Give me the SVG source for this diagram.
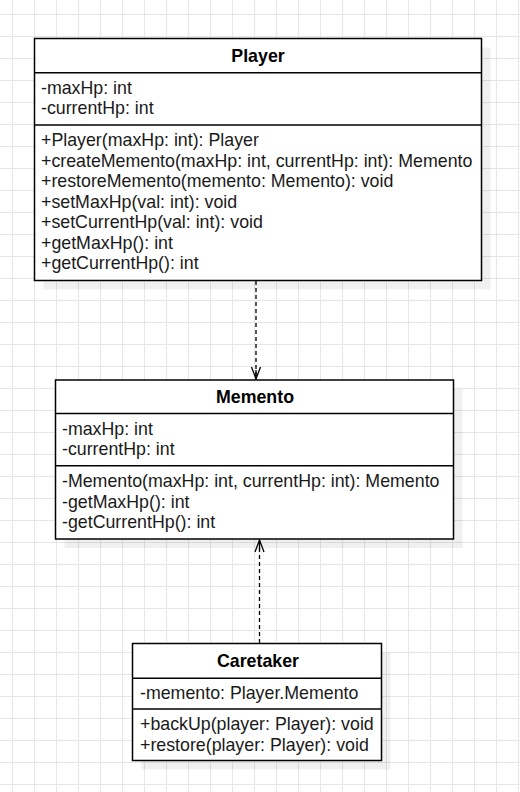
<svg xmlns="http://www.w3.org/2000/svg" width="520" height="792" viewBox="0 0 520 792">
<defs>
<pattern id="grid" patternUnits="userSpaceOnUse" x="12" y="14" width="22" height="22">
<path d="M0 0.5 H22 M0.5 0 V22" fill="none" stroke="#e6e6e6" stroke-width="1"/>
</pattern>
<marker id="open" markerWidth="16" markerHeight="14" refX="13" refY="7" orient="auto" markerUnits="userSpaceOnUse" viewBox="0 0 16 14">
<path d="M1 2.5 L13 7 L1 11.5" fill="none" stroke="#000" stroke-width="1.3"/>
</marker>
</defs>
<style>
.box{fill:#fff;stroke:#000;stroke-width:1.5}
.shadow{fill:#000;opacity:0.06}
.sep{stroke:#000;stroke-width:1.5}
.t{font-family:"Liberation Sans",Arial,sans-serif;font-size:17.8px;fill:#1a1a1a}
.h{font-family:"Liberation Sans",Arial,sans-serif;font-size:17.8px;font-weight:bold;fill:#000;text-anchor:middle}
.edge{fill:none;stroke:#000;stroke-width:1.3;stroke-dasharray:4 3}
</style>
<rect width="520" height="792" fill="#fff"/>
<rect width="520" height="792" fill="url(#grid)"/>

<g id="edges">
<path class="edge" d="M256 281 V379"/>
<path d="M256 370 V379" fill="none" stroke="#000" stroke-width="1.3" marker-end="url(#open)"/>
<path class="edge" d="M259.5 643 V540"/>
<path d="M259.5 550 V540" fill="none" stroke="#000" stroke-width="1.3" marker-end="url(#open)"/>
</g>

<g id="player">
<rect class="shadow" x="43.5" y="47.5" width="447" height="242"/>
<rect class="box" x="34.5" y="38.5" width="447" height="242"/>
<line class="sep" x1="34.5" y1="72.8" x2="481.5" y2="72.8"/>
<line class="sep" x1="34.5" y1="125" x2="481.5" y2="125"/>
<text class="h" x="258" y="62">Player</text>
<text class="t" x="41" y="94">-maxHp: int</text>
<text class="t" x="41" y="114">-currentHp: int</text>
<text class="t" x="41" y="146">+Player(maxHp: int): Player</text>
<text class="t" x="41" y="166.5">+createMemento(maxHp: int, currentHp: int): Memento</text>
<text class="t" x="41" y="187">+restoreMemento(memento: Memento): void</text>
<text class="t" x="41" y="207.5">+setMaxHp(val: int): void</text>
<text class="t" x="41" y="228">+setCurrentHp(val: int): void</text>
<text class="t" x="41" y="248.5">+getMaxHp(): int</text>
<text class="t" x="41" y="269">+getCurrentHp(): int</text>
</g>

<g id="memento">
<rect class="shadow" x="64.5" y="389" width="398" height="159"/>
<rect class="box" x="55.5" y="380" width="398" height="159"/>
<line class="sep" x1="55.5" y1="413.5" x2="453.5" y2="413.5"/>
<line class="sep" x1="55.5" y1="465.8" x2="453.5" y2="465.8"/>
<text class="h" x="255" y="403">Memento</text>
<text class="t" x="62" y="435">-maxHp: int</text>
<text class="t" x="62" y="455">-currentHp: int</text>
<text class="t" x="62" y="487">-Memento(maxHp: int, currentHp: int): Memento</text>
<text class="t" x="62" y="507.5">-getMaxHp(): int</text>
<text class="t" x="62" y="528">-getCurrentHp(): int</text>
</g>

<g id="caretaker">
<rect class="shadow" x="141.5" y="652.5" width="249" height="117"/>
<rect class="box" x="132.5" y="643.5" width="249" height="117"/>
<line class="sep" x1="132.5" y1="678.3" x2="381.5" y2="678.3"/>
<line class="sep" x1="132.5" y1="709" x2="381.5" y2="709"/>
<text class="h" x="258" y="667">Caretaker</text>
<text class="t" x="140" y="699">-memento: Player.Memento</text>
<text class="t" x="140" y="730">+backUp(player: Player): void</text>
<text class="t" x="140" y="751">+restore(player: Player): void</text>
</g>
</svg>
